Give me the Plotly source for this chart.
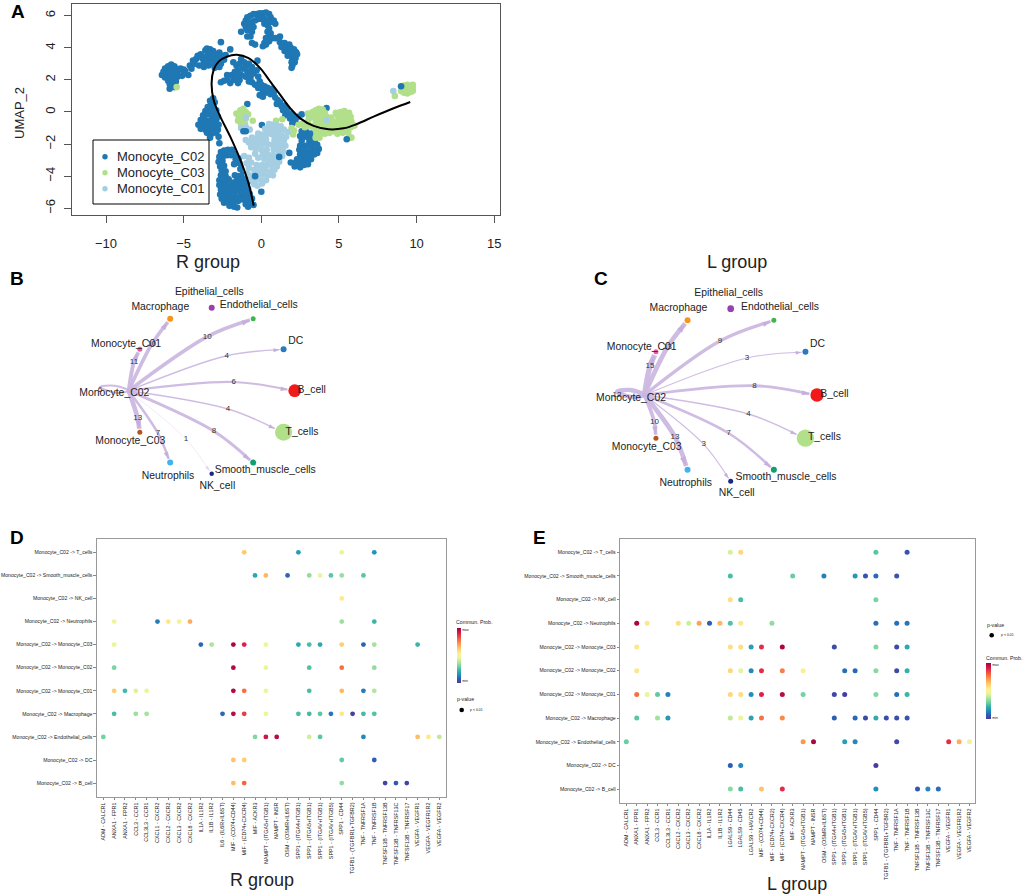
import math
import plotly.graph_objects as go

W, H = 1024, 895

# ---------- Panel A : UMAP ----------
mono_c02 = [
 (-1.0,5.7),(-0.9,5.9),(-0.7,6.0),(-0.5,6.1),(-0.3,6.1),(-0.1,6.15),(0.1,6.15),(0.3,6.2),(0.5,6.1),(0.6,5.9),(0.8,5.7),(0.9,5.5),
 (-1.1,5.5),(-1.0,5.3),(-0.8,5.5),(-0.6,5.6),(-0.4,5.7),(-0.2,5.8),(0,5.8),(0.2,5.8),(0.4,5.7),(0.6,5.6),(-0.9,5.1),(-0.7,5.2),
 (-0.5,5.3),(-0.6,5.0),(-1.3,5.0),(-0.9,4.7),(-0.7,4.7),(-0.6,4.3),(-0.4,4.2),(0.2,5.5),(0.4,5.4),(0.5,5.2),(0.4,5.0),(0.6,4.9),
 (0.5,4.7),(0.7,4.6),(0.3,4.6),(0.2,4.3),(0.1,4.1),(0.3,4.2),(0.5,4.4),(1.2,4.7),(0.9,4.6),
 (1.2,4.35),(1.5,4.3),(1.8,4.2),(1.3,4.05),(1.6,4.0),(1.9,4.0),(2.1,3.9),(1.5,3.8),(1.8,3.75),(2.2,3.75),(2.3,3.6),(2.0,3.6),
 (1.7,3.5),(2.2,3.35),(2.0,3.3),(2.15,3.1),(1.95,3.1),(2.0,2.9),(1.95,2.75),(2.25,3.7),
 (-6.4,2.3),(-6.3,2.5),(-6.2,2.7),(-6.0,2.85),(-5.8,2.95),(-5.6,2.85),(-6.1,2.4),(-5.9,2.6),(-5.7,2.6),(-5.5,2.7),(-6.2,2.15),
 (-6.0,2.2),(-5.8,2.3),(-5.6,2.4),(-5.4,2.5),(-6.0,1.95),(-5.8,2.0),(-5.6,2.1),(-5.4,2.2),(-5.9,1.75),(-5.7,1.8),(-5.5,1.9),
 (-5.9,1.45),(-5.6,1.55),(-5.2,2.7),(-5.0,2.65),(-5.0,2.4),(-4.9,2.55),(-4.7,2.3),(-5.1,2.25),
 (-4.5,2.7),(-4.6,2.9),(-4.4,3.2),(-4.2,3.3),(-4.3,3.0),(-4.1,3.5),(-3.9,3.6),(-3.8,3.35),(-3.6,3.85),(-3.5,3.95),(-3.3,3.9),
 (-3.1,3.8),(-3.3,3.6),(-3.5,3.5),(-3.7,3.1),(-3.5,3.2),(-3.3,3.3),(-3.1,3.4),(-2.9,3.6),(-2.7,3.7),(-2.5,3.5),(-2.7,3.4),
 (-2.9,3.2),(-3.1,3.0),(-3.4,2.9),(-3.7,2.8),(-3.0,2.75),(-2.6,3.0),(-2.4,3.25),(-2.3,3.55),(-2.0,3.9),(-2.6,4.35),(-4.0,2.9),(-2.7,2.8),
 (-2.6,1.85),(-2.4,1.95),(-2.2,2.0),(-2.2,2.3),(-2.0,1.8),(-1.8,2.0),(-1.9,2.3),(-1.7,2.5),(-1.6,2.2),(-1.5,1.8),(-1.4,2.0),
 (-1.3,2.3),(-1.5,2.6),(-1.6,2.9),(-1.8,3.1),(-1.4,3.0),(-1.3,3.3),(-1.1,3.1),(-1.2,2.7),(-1.0,2.8),(-0.9,2.5),(-0.8,3.0),
 (-0.6,2.8),(-0.7,2.5),(-1.0,2.2),(-0.8,1.9),(-0.7,2.15),(-0.5,2.4),(-0.3,2.6),(-0.25,3.2),(-0.2,2.2),(-0.6,1.85),(-0.1,1.9),
 (-0.4,1.7),(-0.2,1.5),(0.0,1.7),(0.2,1.6),(0.4,1.5),(0.1,1.3),(0.3,1.2),(0.5,1.3),(0.7,1.45),(0.6,1.1),(0.8,1.2),(-0.1,1.05),
 (0.1,0.95),(0.9,0.9),(1.05,0.75),(1.2,0.6),(1.0,0.5),(1.3,0.35),(1.5,0.4),(1.4,0.1),(1.65,0.2),(1.7,-0.1),(1.55,-0.2),(1.9,-0.1),
 (1.85,-0.4),(2.05,-0.3),(2.2,-0.6),(2.0,-0.7),(2.35,-0.3),(2.6,-0.15),(3.1,-0.35),(4.2,0.25),(-0.9,0.5),
 (-3.1,0.85),(-3.3,0.7),(-3.0,0.6),(-3.25,0.45),(-3.45,0.3),(-3.1,0.3),(-3.3,0.1),(-3.6,0.05),(-2.9,0.1),(-3.5,-0.15),(-3.75,-0.2),
 (-3.2,-0.2),(-3.0,-0.15),(-2.8,-0.3),(-3.9,-0.5),(-3.65,-0.5),(-3.4,-0.55),(-3.15,-0.55),(-2.9,-0.5),(-4.05,-0.8),(-3.8,-0.8),
 (-3.5,-0.85),(-3.25,-0.85),(-3.0,-0.8),(-2.75,-0.8),(-3.9,-1.05),(-3.6,-1.1),(-3.3,-1.1),(-3.05,-1.05),(-2.8,-1.1),(-3.5,-1.3),
 (-3.2,-1.35),(-2.9,-1.3),(-3.3,-1.6),(-2.75,-1.55),(-2.7,-1.95),(0.04,-0.81),
 (-2.6,-2.5),(-2.4,-2.4),(-2.15,-2.35),(-1.9,-2.35),(-2.7,-2.8),(-2.45,-2.75),(-2.2,-2.7),(-1.95,-2.7),(-1.7,-2.6),(-2.75,-3.1),
 (-2.5,-3.05),(-1.65,-2.95),(-1.45,-2.9),(-2.65,-3.4),(-2.4,-3.35),(-1.4,-3.2),(-2.55,-3.65),(-2.3,-3.7),(-1.75,-3.25),(-2.6,-3.95),
 (-2.3,-4.0),(-1.35,-3.55),(-2.7,-4.25),(-2.4,-4.3),(-2.1,-4.2),(-1.7,-3.95),(-1.45,-4.0),(-1.2,-3.9),(-2.7,-4.55),(-2.45,-4.6),
 (-2.2,-4.55),(-1.9,-4.4),(-1.6,-4.3),(-1.3,-4.25),(-1.0,-4.2),(-2.6,-4.85),(-2.3,-4.85),(-2.0,-4.75),(-1.7,-4.65),(-1.4,-4.55),
 (-1.1,-4.55),(-0.9,-4.4),(-2.65,-5.15),(-2.35,-5.15),(-2.05,-5.05),(-1.75,-5.0),(-1.45,-4.9),(-1.15,-4.85),(-0.85,-4.8),(-2.55,-5.4),
 (-2.25,-5.4),(-1.95,-5.35),(-1.65,-5.3),(-1.35,-5.2),(-1.05,-5.15),(-0.75,-5.1),(-2.4,-5.65),(-2.1,-5.65),(-1.8,-5.6),(-1.5,-5.55),
 (-1.2,-5.45),(-0.9,-5.4),(-0.6,-5.4),(-2.05,-5.85),(-1.75,-5.9),(-1.55,-5.95),(-1.0,-5.75),(-0.75,-5.7),(-0.5,-5.8),(-0.85,-5.9),(0,-4.97),
 (2.6,-1.2),(2.9,-1.25),(3.2,-1.35),(2.5,-1.5),(2.75,-1.55),(3.05,-1.6),(3.35,-1.6),(2.6,-1.8),(3.1,-1.85),(3.45,-1.9),(2.5,-2.1),
 (2.85,-2.1),(3.2,-2.15),(3.6,-2.05),(2.45,-2.35),(2.8,-2.4),(3.1,-2.45),(3.4,-2.35),(3.7,-2.3),(2.5,-2.65),(2.85,-2.7),(3.15,-2.7),
 (3.4,-2.65),(3.6,-2.55),(2.3,-2.95),(2.6,-2.95),(2.9,-3.0),(3.2,-2.95),(1.9,-3.15),(2.15,-3.2),(2.45,-3.25),(2.75,-3.3),(3.0,-3.25),
 (2.5,-3.45),(2.15,-3.4),(1.8,-2.55),
]
mono_c02_top = [(1.15,-2.8),(5.5,-1.7),(9.0,1.6),(-1.15,-1.2),(-1.0,-1.2),(-0.4,-4.0)]
mono_c03 = [
 (-5.45,1.55),(-1.6,-0.1),(-1.35,0.1),(-1.15,0.2),(-1.45,-0.35),(-1.2,-0.15),(-1.0,0),(-1.5,-0.55),(-1.25,-0.55),(-1.0,-0.4),
 (-0.85,-0.15),(-1.3,-0.8),(-1.05,-0.75),(-0.55,-0.55),(0.95,-0.55),(1.35,-0.45),
 (1.95,-1.0),(2.1,-1.15),(2.05,-1.4),(2.4,-0.8),(2.6,-0.75),(2.8,-0.95),(3.0,-0.7),(3.2,-0.9),(3.05,-0.45),(3.3,-0.3),(3.0,-0.1),
 (3.3,0.0),(3.5,0.1),(3.7,0.2),(3.95,0.15),(4.1,-0.05),(3.5,-0.25),(3.75,-0.1),(3.95,-0.25),(4.2,-0.3),(3.5,-0.55),(3.75,-0.45),
 (4.0,-0.55),(4.25,-0.6),(4.5,-0.35),(3.45,-0.85),(3.7,-0.8),(3.95,-0.85),(4.2,-0.85),(4.45,-0.7),(4.7,-0.6),(3.5,-1.1),(3.75,-1.1),
 (4.0,-1.15),(4.25,-1.1),(4.5,-1.0),(4.75,-0.9),(5.0,-0.8),(3.55,-1.35),(3.8,-1.35),(4.1,-1.35),(4.4,-1.3),(4.7,-1.2),(5.0,-1.1),
 (5.3,-1.05),(3.5,-1.6),(3.75,-1.6),(4.9,-1.35),(5.25,-1.3),(5.6,-1.25),(5.5,-0.95),(5.75,-0.95),(6.0,-0.85),(5.5,-0.65),(5.8,-0.6),
 (5.25,-0.7),(5.0,-0.5),(5.3,-0.4),(5.55,-0.35),(5.75,-0.3),(4.9,-0.2),(5.15,-0.15),(5.4,-0.1),(5.65,-0.05),(5.1,0.0),(4.8,-0.05),
 (5.35,0.05),(5.65,-1.55),(5.8,-1.6),
 (8.6,1.0),(9.0,1.3),(9.2,1.2),(9.4,1.15),(9.6,1.25),(9.75,1.3),(9.1,1.45),(9.3,1.4),(9.5,1.45),(9.75,1.5),(9.2,1.65),(9.4,1.7),(9.75,1.7),(9.05,1.55),
]
mono_c01 = [
 (0.5,-0.75),(0.75,-0.8),(1.0,-0.85),(1.25,-0.9),(0.25,-1.05),(0.55,-1.05),(0.85,-1.1),(1.15,-1.15),(1.45,-1.1),(1.7,-1.25),(-0.2,-1.35),
 (0.1,-1.4),(0.4,-1.35),(0.7,-1.4),(1.0,-1.45),(1.3,-1.45),(1.6,-1.55),(-0.6,-1.6),(-0.3,-1.65),(0,-1.7),(0.3,-1.7),(0.85,-1.75),
 (1.15,-1.75),(1.45,-1.8),(-1.0,-1.75),(-0.8,-1.9),(-0.5,-1.95),(-0.2,-2.0),(0.1,-2.0),(0.4,-2.0),(0.7,-2.05),(1.0,-2.05),(1.3,-2.1),
 (1.55,-2.1),(-0.65,-2.2),(-0.35,-2.3),(0,-2.35),(0.35,-2.35),(0.8,-2.35),(1.1,-2.4),(1.4,-2.45),(-0.4,-2.6),(0.1,-2.65),(0.4,-2.65),
 (0.7,-2.7),(1.0,-2.75),(1.35,-2.75),(-1.1,-2.75),(-0.8,-2.85),(-0.2,-2.85),(0.2,-2.95),(0.55,-3.0),(0.85,-3.05),(1.15,-3.1),(-0.95,-3.2),
 (-0.65,-3.15),(-0.3,-3.3),(0.05,-3.3),(0.35,-3.3),(0.7,-3.35),(1.0,-3.4),(-0.8,-3.5),(-0.45,-3.6),(-0.1,-3.6),(0.25,-3.6),(0.6,-3.7),
 (0.85,-3.6),(-0.9,-3.85),(-0.55,-3.95),(-0.2,-3.9),(0.15,-3.9),(0.45,-3.95),(0.75,-3.95),(-0.65,-4.2),(-0.3,-4.2),(0,-4.25),(0.3,-4.25),
 (-0.45,-4.5),(-0.25,-4.6),(0.05,-4.45),(-1.3,-1.0),(-1.0,-0.95),(-1.0,-0.35),(8.5,1.3),(4.2,-0.5),(-0.75,-1.1),
]
curve_x = [-0.49,-0.82,-1.35,-2.0,-2.64,-3.07,-3.2,-3.07,-2.75,-2.21,-1.57,-0.82,-0.06,0.58,1.22,1.87,2.51,3.37,4.33,5.3,6.16,7.23,8.52,9.59]
curve_y = [-5.84,-4.45,-2.99,-1.54,-0.29,0.75,1.79,2.62,3.14,3.45,3.56,3.35,2.72,1.89,1.06,0.23,-0.40,-0.87,-1.08,-1.02,-0.75,-0.29,0.23,0.62]

# ---------- Panels B / C : networks ----------
node_names = ["B_cell","DC","Endothelial_cells","Epithelial_cells","Macrophage","Monocyte_C01",
              "Monocyte_C02","Monocyte_C03","Neutrophils","NK_cell","Smooth_muscle_cells","T_cells"]
node_angles = [0,30,60,90,120,150,180,210,240,270,300,330]
node_colors = ["#F01A1A","#2A7ABD","#3DB54A","#9A3FAE","#F7941D","#F2559F",
               "#C9B3DF","#B0561E","#3FB4EE","#1B2A80","#0FA070","#B2DF8A"]
b_sizes = [12.7,6,5,6,6,5,4,5,6,4.5,6,17]
c_sizes = [13.3,6,5,6.7,6,5,4,5,6,5,6,17.3]
b_label_x = [100,84,47,-2.4,-51.4,-85.7,-97.4,-81.4,-43.7,5.6,53.6,90.3]
b_label_y = [0.4,49,85,98,83.7,46.4,-3,-51,-85.3,-95.3,-79.3,-41.3]
c_label_x = [103.7,86.7,49.3,-2,-52.3,-89,-99.7,-84,-45,6,55.3,93.7]
c_label_y = [0.3,51,88,101.3,86.3,48,-3,-52.7,-88.3,-98.7,-82,-42.7]
# edges: weight and label location, one per target (same order as nodes, None = no edge)
b_weights = [6,4,10,None,10,11,6,13,7,1,8,4]
b_mid_x = [22,15,-4.4,None,-60,-77.7,-111.7,-74,-53.7,-25.7,2.3,16.3]
b_mid_y = [8.7,35,54,None,46.4,29,0.7,-27.6,-42.6,-48.6,-40.6,-18.3]
c_weights = [8,3,9,None,13,15,12,10,13,3,7,4]
c_mid_x = [23.7,16.3,-10.7,None,-63.3,-80.7,-113.7,-76.3,-55.7,-27,-2,17.7]
c_mid_y = [9.3,37,54,None,47.7,28.7,0.3,-27,-42,-49.3,-38.3,-19]

# ---------- Panels D / E : bubble plots ----------
rows = ["Monocyte_C02 -> T_cells","Monocyte_C02 -> Smooth_muscle_cells","Monocyte_C02 -> NK_cell",
        "Monocyte_C02 -> Neutrophils","Monocyte_C02 -> Monocyte_C03","Monocyte_C02 -> Monocyte_C02",
        "Monocyte_C02 -> Monocyte_C01","Monocyte_C02 -> Macrophage","Monocyte_C02 -> Endothelial_cells",
        "Monocyte_C02 -> DC","Monocyte_C02 -> B_cell"]
d_pairs = ["ADM - CALCRL","ANXA1 - FPR1","ANXA1 - FPR2","CCL3 - CCR1","CCL3L3 - CCR1","CXCL1 - CXCR2","CXCL2 - CXCR2",
           "CXCL3 - CXCR2","CXCL8 - CXCR2","IL1A - IL1R2","IL1B - IL1R2","IL6 - (IL6R+IL6ST)","MIF - (CD74+CD44)",
           "MIF - (CD74+CXCR4)","MIF - ACKR3","NAMPT - (ITGA5+ITGB1)","NAMPT - INSR","OSM - (OSMR+IL6ST)",
           "SPP1 - (ITGA4+ITGB1)","SPP1 - (ITGA5+ITGB1)","SPP1 - (ITGAV+ITGB1)","SPP1 - (ITGAV+ITGB5)","SPP1 - CD44",
           "TGFB1 - (TGFBR1+TGFBR2)","TNF - TNFRSF1A","TNF - TNFRSF1B","TNFSF13B - TNFRSF13B","TNFSF13B - TNFRSF13C",
           "TNFSF13B - TNFRSF17","VEGFA - VEGFR1","VEGFA - VEGFR1R2","VEGFA - VEGFR2"]
e_pairs = ["ADM - CALCRL","ANXA1 - FPR1","ANXA1 - FPR2","CCL3 - CCR1","CCL3L3 - CCR1","CXCL2 - CXCR2","CXCL3 - CXCR2",
           "CXCL8 - CXCR2","IL1A - IL1R2","IL1B - IL1R2","LGALS9 - CD44","LGALS9 - CD45","LGALS9 - HAVCR2",
           "MIF - (CD74+CD44)","MIF - (CD74+CXCR2)","MIF - (CD74+CXCR4)","MIF - ACKR3","NAMPT - (ITGA5+ITGB1)",
           "NAMPT - INSR","OSM - (OSMR+IL6ST)","SPP1 - (ITGA4+ITGB1)","SPP1 - (ITGA5+ITGB1)","SPP1 - (ITGAV+ITGB1)",
           "SPP1 - (ITGAV+ITGB5)","SPP1 - CD44","TGFB1 - (TGFBR1+TGFBR2)","TNF - TNFRSF1A","TNF - TNFRSF1B",
           "TNFSF13B - TNFRSF13B","TNFSF13B - TNFRSF13C","TNFSF13B - TNFRSF17","VEGFA - VEGFR1","VEGFA - VEGFR1R2","VEGFA - VEGFR2"]
# (pair index, scaled communication probability) for each row, top to bottom
d_dots = [
 [(13,.63),(18,.18),(22,.47),(25,.16)],
 [(14,.2),(15,.66),(17,.09),(19,.34),(20,.46),(21,.27),(22,.35),(24,.27)],
 [(22,.55)],
 [(1,.48),(5,.12),(6,.56),(7,.5),(8,.68),(22,.35),(25,.23)],
 [(1,.47),(9,.09),(10,.37),(12,.98),(13,.9),(15,.47),(18,.2),(19,.25),(20,.2),(22,.62),(24,.08),(25,.36),(29,.23)],
 [(1,.31),(12,.97),(15,.47),(19,.26),(22,.78),(25,.34)],
 [(1,.62),(2,.24),(3,.44),(4,.46),(12,.97),(13,.78),(15,.47),(19,.25),(22,.66),(24,.12),(25,.38)],
 [(1,.25),(3,.35),(4,.36),(11,.09),(12,.96),(13,.86),(15,.47),(18,.25),(19,.24),(20,.27),(21,.11),(22,.56),(23,.01),(24,.24),(25,.26)],
 [(0,.3),(14,.32),(15,.93),(16,.96),(19,.42),(20,.27),(24,.14),(29,.65),(30,.55),(31,.4)],
 [(12,.64),(13,.62),(22,.28),(25,.07)],
 [(12,.65),(13,.8),(22,.34),(26,.02),(27,.06),(28,.02)],
]
e_dots = [
 [(10,.43),(11,.6),(24,.27),(27,.05)],
 [(10,.25),(16,.29),(19,.13),(22,.17),(23,.05),(24,.09),(26,.05)],
 [(10,.58),(11,.25),(24,.31)],
 [(1,.98),(2,.56),(5,.58),(6,.42),(7,.7),(8,.08),(9,.66),(10,.26),(11,.56),(14,.34),(24,.1),(26,.1),(27,.11)],
 [(1,.56),(10,.58),(11,.58),(12,.18),(13,.88),(15,.98),(20,.03),(24,.32),(26,.03),(27,.2)],
 [(1,.56),(10,.6),(11,.45),(12,.14),(13,.88),(15,.76),(17,.52),(21,.1),(22,.09),(24,.33),(26,.03),(27,.22)],
 [(1,.78),(2,.47),(3,.28),(4,.13),(10,.6),(11,.58),(12,.15),(13,.9),(15,.96),(17,.3),(20,.03),(21,.01),(24,.32),(26,.1),(27,.23)],
 [(1,.27),(3,.36),(4,.17),(10,.4),(11,.46),(12,.19),(13,.78),(15,.74),(20,.07),(22,.09),(23,.03),(24,.21),(25,.04),(26,.04),(27,.05)],
 [(0,.29),(17,.72),(18,.98),(21,.18),(22,.14),(26,.03),(31,.88),(32,.68),(33,.49)],
 [(10,.07),(11,.14),(24,.0)],
 [(10,.33),(11,.25),(13,.64),(15,.88),(24,.15),(28,.06),(29,.14),(30,.1)],
]
spectral = [[0,"#4A3A9F"],[.08,"#2A62B8"],[.15,"#1F8FBC"],[.22,"#35B0A8"],[.3,"#6FD3A2"],[.38,"#B5E59A"],
            [.46,"#EAF69A"],[.54,"#FFEE8E"],[.62,"#FFCE70"],[.7,"#FFA254"],[.8,"#F5643C"],[.9,"#DE1F4B"],[1,"#A00040"]]

INK = "#222222"
FONT = "Liberation Sans, Arial, sans-serif"
px = lambda x: x / W
py = lambda y: 1 - y / H
fig = go.Figure()

# Panel A
BLUE, GREEN, SKY = "#1F78B4", "#B2DF8A", "#A6CEE3"
def pts(lst):
    return [p[0] for p in lst], [p[1] for p in lst]
for name, lst, col in [("Monocyte_C02", mono_c02, BLUE), ("Monocyte_C03", mono_c03, GREEN), ("Monocyte_C01", mono_c01, SKY)]:
    x, y = pts(lst)
    fig.add_trace(go.Scatter(x=x, y=y, mode="markers", name=name, xaxis="x", yaxis="y", showlegend=False,
                             marker=dict(size=6.6, color=col)))
x, y = pts(mono_c02_top)
fig.add_trace(go.Scatter(x=x, y=y, mode="markers", showlegend=False, xaxis="x", yaxis="y",
                         marker=dict(size=6.6, color=BLUE)))
fig.add_trace(go.Scatter(x=curve_x, y=curve_y, mode="lines", showlegend=False, xaxis="x", yaxis="y",
                         line=dict(color="black", width=2, shape="spline", smoothing=1)))

# Panels B, C
EDGE = "#CDB9E2"
def network(sizes, lx, ly, weights, mx, my, R, xa, ya):
    nx = [R * math.cos(math.radians(a)) for a in node_angles]
    ny = [R * math.sin(math.radians(a)) for a in node_angles]
    sx, sy = nx[6], ny[6]
    for i, w in enumerate(weights):
        if w is None:
            continue
        lw = max(0.6, 0.36 * w)
        if i == 6:
            ex = [sx, sx - 14, mx[i], sx - 14, sx]
            ey = [sy, sy + 5, my[i] + 3, sy - 2, sy]
            ms = [0] * 5
        else:
            dx, dy = nx[i] - mx[i], ny[i] - my[i]
            d = math.hypot(dx, dy)
            r = sizes[i] / 2 + 1
            ex = [sx, mx[i], nx[i] - dx / d * r]
            ey = [sy, my[i], ny[i] - dy / d * r]
            ms = [0, 0, 5 + lw]
        fig.add_trace(go.Scatter(x=ex, y=ey, mode="lines+markers", showlegend=False, xaxis=xa, yaxis=ya,
                                 line=dict(color=EDGE, width=lw, shape="spline", smoothing=1),
                                 opacity=0.45 if w == 1 else 0.95,
                                 marker=dict(size=ms, opacity=1, symbol="arrow", angleref="previous", color="#C3ABDB", line=dict(width=0))))
    fig.add_trace(go.Scatter(x=nx, y=ny, mode="markers", showlegend=False, xaxis=xa, yaxis=ya,
                             marker=dict(size=sizes, opacity=1, color=node_colors, line=dict(width=0))))
    ex = [m for m in mx if m is not None]
    ey = [m for m in my if m is not None]
    et = [str(w) for w in weights if w is not None]
    fig.add_trace(go.Scatter(x=ex, y=ey, text=et, mode="text", showlegend=False, xaxis=xa, yaxis=ya, cliponaxis=False,
                             textfont=dict(size=8, color="#333333", family=FONT)))
    fig.add_trace(go.Scatter(x=lx, y=ly, text=node_names, mode="text", showlegend=False, xaxis=xa, yaxis=ya, cliponaxis=False,
                             textfont=dict(size=10.4, color=INK, family=FONT)))

network(b_sizes, b_label_x, b_label_y, b_weights, b_mid_x, b_mid_y, 83, "x2", "y2")
network(c_sizes, c_label_x, c_label_y, c_weights, c_mid_x, c_mid_y, 86.3, "x3", "y3")

# Panels D, E
def bubbles(dots, pairs, size, xa, ya, cbx, cbtop, cblen, cbth):
    xs, ys, vs = [], [], []
    for r, row in zip(rows, dots):
        for c, v in row:
            xs.append(pairs[c]); ys.append(r); vs.append(v)
    fig.add_trace(go.Scatter(x=xs, y=ys, mode="markers", showlegend=False, xaxis=xa, yaxis=ya,
        marker=dict(size=size, color=vs, cmin=0, cmax=1, colorscale=spectral, line=dict(width=0), showscale=True,
                    colorbar=dict(thickness=cbth, thicknessmode="pixels", len=cblen, lenmode="pixels",
                                  x=px(cbx), xanchor="left", y=py(cbtop), yanchor="top", xpad=0, ypad=0,
                                  outlinewidth=0, tickvals=[0.03, 0.97], ticktext=["min", "max"], ticks="",
                                  ticklabelposition="outside", tickfont=dict(size=3.5, color=INK, family=FONT)))))

bubbles(d_dots, d_pairs, 4.8, "x4", "y4", 456.7, 627.7, 55, 4.3)
bubbles(e_dots, e_pairs, 5, "x5", "y5", 986, 663.3, 56, 4.7)

def dom(a, b, size):
    return [a / size, b / size]

frame_a = dict(showline=True, mirror=True, linecolor="#555555", linewidth=1.2, showgrid=False, zeroline=False,
               ticks="outside", ticklen=7, tickcolor="#555555", tickwidth=1,
               tickfont=dict(size=13, color=INK, family=FONT))
hidden = dict(visible=False, showgrid=False, zeroline=False)
frame_d = dict(showline=True, mirror=True, linecolor="#999999", linewidth=1.3, showgrid=False, zeroline=False,
               ticks="outside", ticklen=2.5, tickcolor="#888888", tickwidth=0.7,
               type="category", tickmode="array")
xt = dict(size=5.4, color=INK, family=FONT)
yt = dict(size=5.1, color=INK, family=FONT)

annots = []
def note(text, x, y, size, bold=False, angle=0, color=INK):
    annots.append(dict(text=f"<b>{text}</b>" if bold else text, x=px(x), y=py(y), xref="paper", yref="paper",
                       xanchor="center", yanchor="middle", showarrow=False, textangle=angle,
                       font=dict(size=size, color=color, family=FONT)))
for t, x, y in [("A", 17.5, 11), ("B", 17, 278), ("C", 601, 278), ("D", 17, 537), ("E", 539, 537)]:
    note(t, x, y, 19, bold=True, color="black")
note("UMAP_2", 19, 113, 13, angle=-90)
note("R group", 208, 262, 18)
note("L group", 737, 262, 18)
note("R group", 262, 880, 18)
note("L group", 797, 884, 18)
note("Commun. Prob.", 474, 622.3, 5.2)
note("p-value", 465.3, 699.3, 5.2)
note("p &lt; 0.01", 476.7, 710, 3.5)
note("Commun. Prob.", 1004, 658, 5.2)
note("p-value", 995.3, 624.7, 5.2)
note("p &lt; 0.01", 1007, 635.3, 3.5)

def key_dot(x, y, r=2.3, color="black"):
    return dict(type="circle", xref="paper", yref="paper", x0=px(x - r), x1=px(x + r), y0=py(y + r), y1=py(y - r),
                fillcolor=color, line=dict(width=0))

# Panel A legend key, placed as in the reference
legend_entries = [("Monocyte_C02", BLUE), ("Monocyte_C03", GREEN), ("Monocyte_C01", SKY)]
shapes = [dict(type="rect", xref="paper", yref="paper", x0=px(93), x1=px(209), y0=py(204), y1=py(140),
               fillcolor="white", line=dict(color="black", width=1))]
for k, (name, col) in enumerate(legend_entries):
    ry = 156.7 + 16 * k
    shapes.append(key_dot(105, ry, 2.7, col))
    note(name, 160.5, ry, 13)
shapes += [key_dot(461.7, 710), key_dot(991.7, 635.3)]

fig.update_layout(
    width=W, height=H, margin=dict(l=0, r=0, t=0, b=0, autoexpand=False), showlegend=False,
    paper_bgcolor="white", plot_bgcolor="white", font=dict(family=FONT, color=INK),
    xaxis=dict(domain=dom(72, 500, W), range=[-12.19, 15.37], anchor="y", tickvals=[-10, -5, 0, 5, 10, 15],
               ticklabelstandoff=9, **frame_a),
    yaxis=dict(domain=[py(215), py(4.3)], range=[-6.42, 6.71], anchor="x", tickvals=[-6, -4, -2, 0, 2, 4, 6],
               tickangle=-90, ticklabelstandoff=4, **frame_a),
    xaxis2=dict(domain=dom(40, 340, W), range=[40 - 211.7, 340 - 211.7], anchor="y2", **hidden),
    yaxis2=dict(domain=[py(495), py(280)], range=[390.7 - 495, 390.7 - 280], anchor="x2", **hidden),
    xaxis3=dict(domain=dom(590, 860, W), range=[590 - 730.7, 860 - 730.7], anchor="y3", **hidden),
    yaxis3=dict(domain=[py(500), py(280)], range=[395 - 500, 395 - 280], anchor="x3", **hidden),
    xaxis4=dict(domain=dom(97, 445.7, W), range=[-0.58, 31.59], anchor="y4", categoryorder="array", categoryarray=d_pairs,
                tickvals=d_pairs, ticktext=d_pairs, tickangle=-90, tickfont=xt, **frame_d),
    yaxis4=dict(domain=[py(796.7), py(538.7)], range=[-0.59, 10.59], anchor="x4", categoryorder="array", categoryarray=rows[::-1],
                tickvals=rows, ticktext=rows, tickfont=yt, **frame_d),
    xaxis5=dict(domain=dom(620.3, 975, W), range=[-0.58, 33.53], anchor="y5", categoryorder="array", categoryarray=e_pairs,
                tickvals=e_pairs, ticktext=e_pairs, tickangle=-90, tickfont=xt, **frame_d),
    yaxis5=dict(domain=[py(802.7), py(538.7)], range=[-0.575, 10.575], anchor="x5", categoryorder="array", categoryarray=rows[::-1],
                tickvals=rows, ticktext=rows, tickfont=yt, **frame_d),
    annotations=annots,
    shapes=shapes,
)
fig.write_html("out.html", config={"displayModeBar": False}, post_script="document.body.style.margin='0';")
